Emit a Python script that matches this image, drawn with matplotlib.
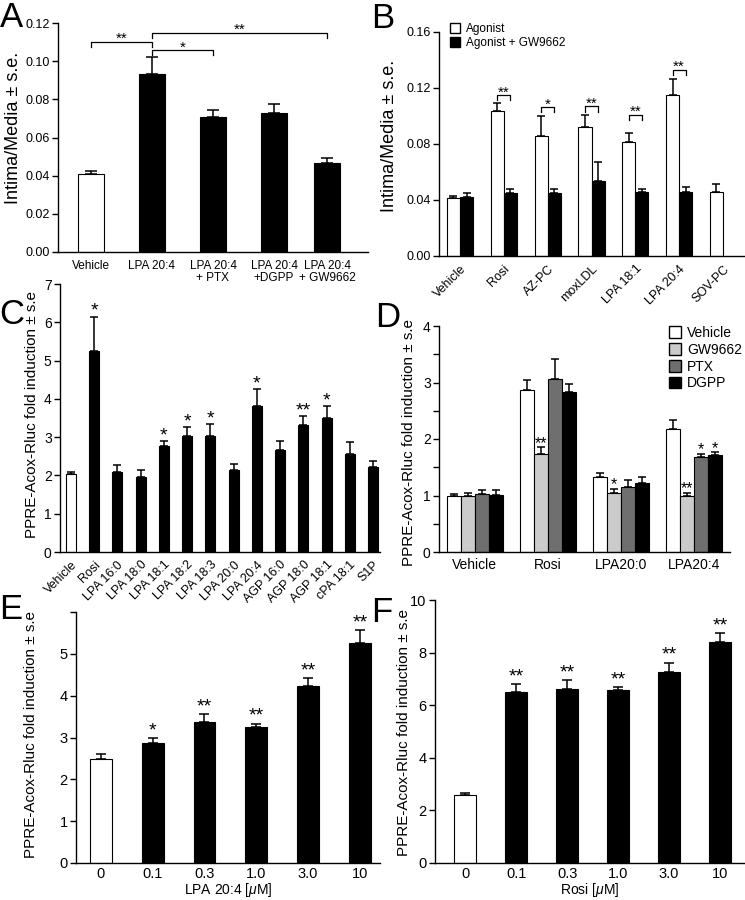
import numpy as np
import matplotlib
matplotlib.use("Agg")
import matplotlib.pyplot as plt
from matplotlib.patches import Patch

plt.rcParams['font.family'] = ['Liberation Sans', 'DejaVu Sans']
plt.rcParams['mathtext.fontset'] = 'custom'
plt.rcParams['mathtext.rm'] = 'Liberation Sans'
plt.rcParams['mathtext.it'] = 'Liberation Sans:italic'

# ---- data ----
# A
a_labels = ['Vehicle', 'LPA 20:4', 'LPA 20:4\n+ PTX', 'LPA 20:4\n+DGPP', 'LPA 20:4\n+ GW9662']
a_mean = [0.041, 0.0934, 0.0706, 0.0728, 0.0466]
a_err = [0.0017, 0.0086, 0.0040, 0.0046, 0.0027]
a_brackets = [(0, 1, 0.1100, '**'), (1, 2, 0.1057, '*'), (1, 4, 0.1148, '**')]

# B
b_labels = ['Vehicle', 'Rosi', 'AZ-PC', 'moxLDL', 'LPA 18:1', 'LPA 20:4', 'SOV-PC']
b_agonist = [0.0417, 0.1037, 0.0854, 0.0923, 0.0813, 0.1152, 0.0460]
b_agonist_err = [0.0012, 0.0055, 0.0147, 0.0086, 0.0064, 0.0114, 0.0053]
b_gw = [0.0424, 0.0448, 0.0451, 0.0536, 0.0455, 0.0460, np.nan]
b_gw_err = [0.0029, 0.0029, 0.0026, 0.0139, 0.0024, 0.0036, np.nan]
b_bracket_y = [None, 0.1147, 0.1063, 0.1068, 0.1009, 0.1330, None]
b_stars = ['', '**', '*', '**', '**', '**', '']

# C
c_labels = ['Vehicle', 'Rosi', 'LPA 16:0', 'LPA 18:0', 'LPA 18:1', 'LPA 18:2', 'LPA 18:3',
            'LPA 20:0', 'LPA 20:4', 'AGP 16:0', 'AGP 18:0', 'AGP 18:1', 'cPA 18:1', 'S1P']
c_mean = [2.04, 5.25, 2.09, 1.97, 2.76, 3.03, 3.03, 2.15, 3.82, 2.67, 3.33, 3.49, 2.57, 2.23]
c_err = [0.06, 0.90, 0.19, 0.18, 0.14, 0.24, 0.32, 0.15, 0.44, 0.23, 0.23, 0.33, 0.30, 0.15]
c_stars = ['', '*', '', '', '*', '*', '*', '', '*', '', '**', '*', '', '']

# D
d_groups = ['Vehicle', 'Rosi', 'LPA20:0', 'LPA20:4']
d_series = ['Vehicle', 'GW9662', 'PTX', 'DGPP']
d_vehicle = [1.00, 2.87, 1.33, 2.17]
d_vehicle_err = [0.03, 0.18, 0.07, 0.17]
d_gw = [1.00, 1.74, 1.04, 1.00]
d_gw_err = [0.05, 0.11, 0.08, 0.05]
d_ptx = [1.02, 3.07, 1.15, 1.68]
d_ptx_err = [0.08, 0.35, 0.13, 0.06]
d_dgpp = [1.01, 2.83, 1.22, 1.71]
d_dgpp_err = [0.08, 0.15, 0.10, 0.06]
d_stars_gw = ['', '**', '*', '**']
d_stars_ptx = ['', '', '', '*']
d_stars_dgpp = ['', '', '', '*']

# E / F
conc_labels = ['0', '0.1', '0.3', '1.0', '3.0', '10']
e_mean = [2.48, 2.88, 3.37, 3.25, 4.22, 5.25]
e_err = [0.12, 0.10, 0.18, 0.08, 0.20, 0.32]
e_stars = ['', '*', '**', '**', '**', '**']
f_mean = [2.59, 6.49, 6.61, 6.56, 7.25, 8.42]
f_err = [0.09, 0.31, 0.35, 0.12, 0.37, 0.31]
f_stars = ['', '**', '**', '**', '**', '**']

W, H = 745, 900
fig = plt.figure(figsize=(W / 100, H / 100), dpi=100)


def rect(l, t, r, b):
    return [l / W, 1 - b / H, (r - l) / W, (b - t) / H]


def style(ax, fs=9):
    for s in ['top', 'right']:
        ax.spines[s].set_visible(False)
    for s in ['left', 'bottom']:
        ax.spines[s].set_linewidth(1.0)
    ax.tick_params(axis='y', direction='out', length=4, width=1, labelsize=fs, pad=2)
    ax.tick_params(axis='x', length=0, labelsize=fs)


def bars(ax, x, y, err, width, colors, capsize=3):
    ax.bar(x, y, width, color=colors, edgecolor='black', linewidth=0.8, zorder=2)
    y = np.asarray(y, float)
    err = np.asarray(err, float)
    ax.errorbar(x, y, yerr=[np.zeros_like(err), err], fmt='none', ecolor='black',
                elinewidth=1.1, capsize=capsize, capthick=1.1, zorder=1)


def stars(ax, x, y, err, labels, fs=13, dy=0.0):
    for xi, yi, ei, s in zip(x, y, err, labels):
        if s:
            ax.annotate(s, xy=(xi, yi + ei), xytext=(0, dy), textcoords='offset points',
                        ha='center', va='baseline', fontsize=fs)


def ylab(text, x, y, fs):
    fig.text(x / W, 1 - y / H, text, rotation=90, ha='center', va='center', fontsize=fs)


def letter(s, x, y):
    fig.text(x / W, 1 - y / H, s, ha='left', va='top', fontsize=25)


# ---- A ----
ax = fig.add_axes(rect(58, 23, 368, 252))
xa = np.array([0, 1, 2, 3, 3.87])
cols = ['white'] + ['black'] * 4
bars(ax, xa, a_mean, a_err, 0.42, cols, capsize=4)
for i, j, yb, s in a_brackets:
    d = 0.0026
    ax.plot([xa[i], xa[i], xa[j], xa[j]], [yb - d, yb, yb, yb - d], color='black', lw=0.9)
    ax.text((xa[i] + xa[j]) / 2, yb - 0.0006, s, ha='center', va='baseline', fontsize=11)
ax.set_xlim(-0.54, 4.54)
ax.set_ylim(0, 0.12)
ax.set_yticks(np.arange(0, 0.121, 0.02))
ax.set_yticklabels(['%.2f' % v for v in np.arange(0, 0.121, 0.02)])
ax.set_xticks(xa)
ax.set_xticklabels(a_labels, fontsize=8.5, va='top', linespacing=1.0)
style(ax)
ax.tick_params(axis='x', labelsize=8.5, pad=6)
ylab('Intima/Media \u00b1 s.e.', 14, 128, 13)
letter('A', 0, 1)

# ---- B ----
ax = fig.add_axes(rect(439, 32, 744, 256))
xb = np.arange(len(b_labels))
bw = 0.3
bars(ax, xb - bw / 2, b_agonist, b_agonist_err, bw, 'white', capsize=3)
bars(ax, xb + bw / 2, b_gw, b_gw_err, bw, 'black', capsize=3)
for xi, yb, s in zip(xb, b_bracket_y, b_stars):
    if yb is None:
        continue
    d = 0.0036
    ax.plot([xi - bw / 2, xi - bw / 2, xi + bw / 2, xi + bw / 2], [yb - d, yb, yb, yb - d],
            color='black', lw=0.9)
    ax.text(xi, yb - 0.0008, s, ha='center', va='baseline', fontsize=11)
ax.set_xlim(-0.48, 6.48)
ax.set_ylim(0, 0.16)
ax.set_yticks(np.arange(0, 0.161, 0.04))
ax.set_yticklabels(['%.2f' % v for v in np.arange(0, 0.161, 0.04)])
ax.set_xticks(xb)
ax.set_xticklabels(b_labels, rotation=45, ha='right', rotation_mode='anchor', fontsize=9)
style(ax)
ax.tick_params(axis='x', labelsize=9, pad=5)
ax.legend(handles=[Patch(facecolor='white', edgecolor='black', label='Agonist'),
                   Patch(facecolor='black', edgecolor='black', label='Agonist + GW9662')],
          loc='upper left', bbox_to_anchor=(0.035, 1.04), frameon=False, fontsize=8.5,
          handlelength=0.9, handleheight=0.9, handletextpad=0.5, labelspacing=0.2,
          borderpad=0, borderaxespad=0)
ylab('Intima/Media \u00b1 s.e.', 390, 136, 13)
letter('B', 371, 2)

# ---- C ----
ax = fig.add_axes(rect(60, 284, 380, 552))
xc = np.arange(len(c_labels))
bars(ax, xc, c_mean, c_err, 0.43, ['white'] + ['black'] * (len(c_labels) - 1), capsize=3)
stars(ax, xc, c_mean, c_err, c_stars, fs=14, dy=0.5)
ax.set_xlim(-0.47, 13.3)
ax.set_ylim(0, 7)
ax.set_yticks(range(8))
ax.set_xticks(xc)
ax.set_xticklabels(c_labels, rotation=45, ha='right', rotation_mode='anchor', fontsize=9)
style(ax, fs=10)
ax.tick_params(axis='x', labelsize=9, pad=5)
ylab('PPRE-Acox-Rluc fold induction \u00b1 s.e', 32, 415, 11)
letter('C', -1, 298)

# ---- D ----
ax = fig.add_axes(rect(439, 326, 730, 552))
xd = np.arange(len(d_groups))
dw = 0.19
d_all = [(d_vehicle, d_vehicle_err, 'white', None),
         (d_gw, d_gw_err, '#cbcbcb', d_stars_gw),
         (d_ptx, d_ptx_err, '#6f6f6f', d_stars_ptx),
         (d_dgpp, d_dgpp_err, 'black', d_stars_dgpp)]
for k, (m, e, c, st) in enumerate(d_all):
    xk = xd + (k - 1.5) * dw
    bars(ax, xk, m, e, dw, c, capsize=3)
    if st:
        stars(ax, xk, m, e, st, fs=11.5, dy=-0.5)
ax.set_xlim(-0.49, 3.49)
ax.set_ylim(0, 4)
ax.set_yticks(range(5))
ax.set_yticks(np.arange(0.5, 4, 1.0), minor=True)
ax.set_xticks(xd)
ax.set_xticklabels(d_groups)
style(ax, fs=10)
ax.tick_params(axis='y', which='minor', direction='out', length=4, width=1)
ax.tick_params(axis='x', labelsize=10, pad=4)
ax.legend(handles=[Patch(facecolor=c, edgecolor='black', label=n)
                   for n, (_, _, c, _) in zip(d_series, d_all)],
          loc='upper left', bbox_to_anchor=(0.79, 1.0), frameon=False, fontsize=10,
          handlelength=0.9, handleheight=0.9, handletextpad=0.4, labelspacing=0.2,
          borderpad=0, borderaxespad=0)
ylab('PPRE-Acox-Rluc fold induction \u00b1 s.e', 409, 443, 11)
letter('D', 375, 301)

# ---- E ----
ax = fig.add_axes(rect(76, 612, 380, 863))
xe = np.arange(len(conc_labels))
bars(ax, xe, e_mean, e_err, 0.42, ['white'] + ['black'] * 5, capsize=3.5)
stars(ax, xe, e_mean, e_err, e_stars, fs=14, dy=2)
ax.set_xlim(-0.48, 5.39)
ax.set_ylim(0, 6)
ax.set_yticks(range(7))
ax.set_yticklabels([str(v) for v in range(6)] + [''])
ax.set_xticks(xe)
ax.set_xticklabels(conc_labels)
style(ax, fs=10.5)
ax.tick_params(axis='x', labelsize=10.5, pad=3)
ax.set_xlabel(r'LPA 20:4 [$\mu$M]', fontsize=10, labelpad=0)
ylab('PPRE-Acox-Rluc fold induction \u00b1 s.e', 31, 735, 11)
letter('E', -1, 593)

# ---- F ----
ax = fig.add_axes(rect(435, 600, 744, 863))
xf = np.arange(len(conc_labels))
bars(ax, xf, f_mean, f_err, 0.42, ['white'] + ['black'] * 5, capsize=3.5)
stars(ax, xf, f_mean, f_err, f_stars, fs=14, dy=2)
ax.set_xlim(-0.59, 5.47)
ax.set_ylim(0, 10)
ax.set_yticks(range(0, 11, 2))
ax.set_xticks(xf)
ax.set_xticklabels(conc_labels)
style(ax, fs=10.5)
ax.tick_params(axis='x', labelsize=10.5, pad=3)
ax.set_xlabel(r'Rosi [$\mu$M]', fontsize=10, labelpad=0)
ylab('PPRE-Acox-Rluc fold induction \u00b1 s.e', 404, 733, 11)
letter('F', 371, 596)

fig.savefig('out.png', dpi=100)
